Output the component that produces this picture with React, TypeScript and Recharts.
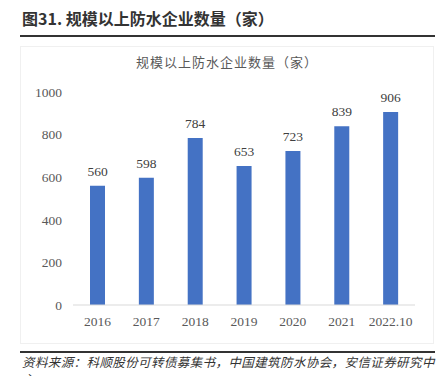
import { BarChart, Bar, XAxis, YAxis, LabelList } from "recharts";

const years = ["2016", "2017", "2018", "2019", "2020", "2021", "2022.10"];
const companies = [560, 598, 784, 653, 723, 839, 906];
const yTicks = [0, 200, 400, 600, 800, 1000];

const data = years.map((year, i) => ({ year, count: companies[i] }));

const serif = "'Liberation Serif', 'Times New Roman', serif";
const cjk = "'Noto Sans CJK SC', sans-serif";

export default function App() {
  return (
    <div
      style={{
        position: "absolute",
        top: 0,
        left: 0,
        width: 440,
        height: 376,
        overflow: "hidden",
        background: "#fff",
      }}
    >
      <div
        style={{
          position: "absolute",
          left: 22,
          top: 6,
          fontFamily: cjk,
          fontWeight: 700,
          fontSize: 16,
          color: "#333",
          whiteSpace: "nowrap",
        }}
      >
        图31. 规模以上防水企业数量（家）
      </div>
      <div
        style={{
          position: "absolute",
          left: 20,
          top: 35,
          width: 415,
          height: 2,
          background: "#333",
        }}
      />
      <div
        style={{
          position: "absolute",
          left: 20,
          top: 46,
          width: 412,
          height: 296,
          border: "1px solid #f0f0f0",
        }}
      />
      <div
        style={{
          position: "absolute",
          left: 0,
          width: 454,
          top: 52,
          textAlign: "center",
          fontFamily: cjk,
          fontSize: 13,
          letterSpacing: 1,
          color: "#595959",
        }}
      >
        规模以上防水企业数量（家）
      </div>
      <div style={{ position: "absolute", left: 0, top: 0 }}>
        <BarChart
          width={440}
          height={376}
          data={data}
          margin={{ top: 92, right: 25, left: 0, bottom: 41 }}
          barSize={15}
        >
          <XAxis
            dataKey="year"
            height={30}
            axisLine={{ stroke: "#d9d9d9" }}
            tickLine={false}
            tickMargin={5}
            tick={{ fill: "#595959", fontSize: 13.5, fontFamily: serif }}
            interval={0}
          />
          <YAxis
            width={73}
            domain={[0, 1000]}
            ticks={yTicks}
            axisLine={false}
            tickLine={false}
            tickMargin={5}
            tick={{ fill: "#595959", fontSize: 13.5, fontFamily: serif }}
          />
          <Bar dataKey="count" fill="#4472C4" isAnimationActive={false}>
            <LabelList
              dataKey="count"
              position="top"
              offset={10}
              fill="#404040"
              fontSize={13.5}
              fontFamily={serif}
            />
          </Bar>
        </BarChart>
      </div>
      <div
        style={{
          position: "absolute",
          left: 20,
          top: 351,
          width: 415,
          height: 1.5,
          background: "#333",
        }}
      />
      <div
        style={{
          position: "absolute",
          left: 22,
          top: 353,
          width: 416,
          fontFamily: cjk,
          fontStyle: "italic",
          fontSize: 12.5,
          letterSpacing: 0.4,
          lineHeight: "17px",
          color: "#333",
        }}
      >
        资料来源：科顺股份可转债募集书，中国建筑防水协会，安信证券研究中心
      </div>
    </div>
  );
}
